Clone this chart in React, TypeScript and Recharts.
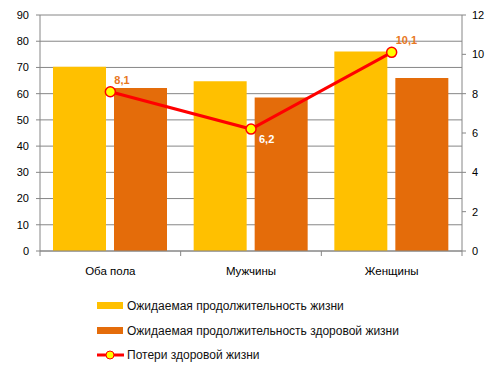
import { ComposedChart, Bar, Line, XAxis, YAxis, CartesianGrid } from 'recharts'

const categories = ['Оба пола', 'Мужчины', 'Женщины']
const lifeExpectancy = [70.3, 64.7, 76.1]
const healthyLifeExpectancy = [62.2, 58.5, 66.0]
const healthyLifeLoss = [8.1, 6.2, 10.1]
const leftTicks = [0, 10, 20, 30, 40, 50, 60, 70, 80, 90]
const rightTicks = [0, 2, 4, 6, 8, 10, 12]

const seriesNames = [
    'Ожидаемая продолжительность жизни',
    'Ожидаемая продолжительность здоровой жизни',
    'Потери здоровой жизни'
]

const data = categories.map((name, i) => ({
    name,
    life: lifeExpectancy[i],
    healthy: healthyLifeExpectancy[i],
    loss: healthyLifeLoss[i]
}))

const FONT = '"Liberation Sans", Arial, sans-serif'
const GRID = '#868686'
const YELLOW = '#FFC000'
const ORANGE = '#E46C0A'
const RED = '#FF0000'

function CategoryTick(props: any) {
    const { x, y, payload, index } = props
    const half = payload && payload.offset ? payload.offset : 70
    const last = index === categories.length - 1
    return (
        <g>
            <line x1={x - half} x2={x - half} y1={y} y2={y + 5} stroke={GRID} />
            {last && <line x1={x + half} x2={x + half} y1={y} y2={y + 5} stroke={GRID} />}
            <text x={x} y={y + 24} textAnchor="middle" fill="#000" fontSize={11.5} fontFamily={FONT}>
                {payload.value}
            </text>
        </g>
    )
}

function LossLabel(props: any) {
    const { x, y, value, index } = props
    const text = String(value).replace('.', ',')
    const below = index === 1
    return (
        <text
            x={x + (below ? 8 : 4)}
            y={y + (below ? 14 : -8)}
            fill={below ? '#ffffff' : '#E87722'}
            fontSize={11}
            fontWeight="bold"
            fontFamily={FONT}
        >
            {text}
        </text>
    )
}

function LegendRow({ kind, label }: { kind: string; label: string }) {
    return (
        <div style={{ display: 'flex', alignItems: 'center', height: 24.5 }}>
            <svg width={30} height={12} style={{ marginRight: 1 }}>
                {kind === 'line' ? (
                    <g>
                        <line x1={1} x2={28} y1={6} y2={6} stroke={RED} strokeWidth={3} />
                        <circle cx={14} cy={6} r={4} fill="#FFFF00" stroke={RED} strokeWidth={1} />
                    </g>
                ) : (
                    <rect x={1} y={2} width={26} height={7} fill={kind} />
                )}
            </svg>
            <span>{label}</span>
        </div>
    )
}

export default function App() {
    return (
        <div style={{ position: 'absolute', left: 0, top: 0, width: 502, height: 374, background: '#fff', fontFamily: FONT }}>
            <ComposedChart
                width={502}
                height={374}
                data={data}
                margin={{ top: 15, right: 0, bottom: 98, left: 0 }}
                barCategoryGap={13}
                barGap={8}
            >
                <CartesianGrid yAxisId="left" vertical={false} stroke={GRID} />
                <XAxis
                    dataKey="name"
                    height={25}
                    stroke={GRID}
                    tickLine={false}
                    tickSize={0}
                    tickMargin={0}
                    tick={<CategoryTick />}
                    interval={0}
                />
                <YAxis
                    yAxisId="left"
                    width={40}
                    domain={[0, 90]}
                    ticks={leftTicks}
                    stroke={GRID}
                    tickSize={4}
                    tickMargin={7}
                    tick={{ fill: '#000', fontSize: 11, fontFamily: FONT }}
                />
                <YAxis
                    yAxisId="right"
                    orientation="right"
                    width={40}
                    domain={[0, 12]}
                    ticks={rightTicks}
                    stroke={GRID}
                    tickSize={4}
                    tickMargin={6}
                    tick={{ fill: '#000', fontSize: 11, fontFamily: FONT }}
                />
                <Bar yAxisId="left" dataKey="life" fill={YELLOW} isAnimationActive={false} />
                <Bar yAxisId="left" dataKey="healthy" fill={ORANGE} isAnimationActive={false} />
                <Line
                    yAxisId="right"
                    dataKey="loss"
                    type="linear"
                    stroke={RED}
                    strokeWidth={3}
                    dot={{ r: 5, fill: '#FFFF00', stroke: RED, strokeWidth: 1.5 }}
                    label={<LossLabel />}
                    isAnimationActive={false}
                />
            </ComposedChart>
            <div style={{ position: 'absolute', left: 96, top: 294, fontSize: 12, color: '#111' }}>
                <LegendRow kind={YELLOW} label={seriesNames[0]} />
                <LegendRow kind={ORANGE} label={seriesNames[1]} />
                <LegendRow kind="line" label={seriesNames[2]} />
            </div>
        </div>
    )
}
